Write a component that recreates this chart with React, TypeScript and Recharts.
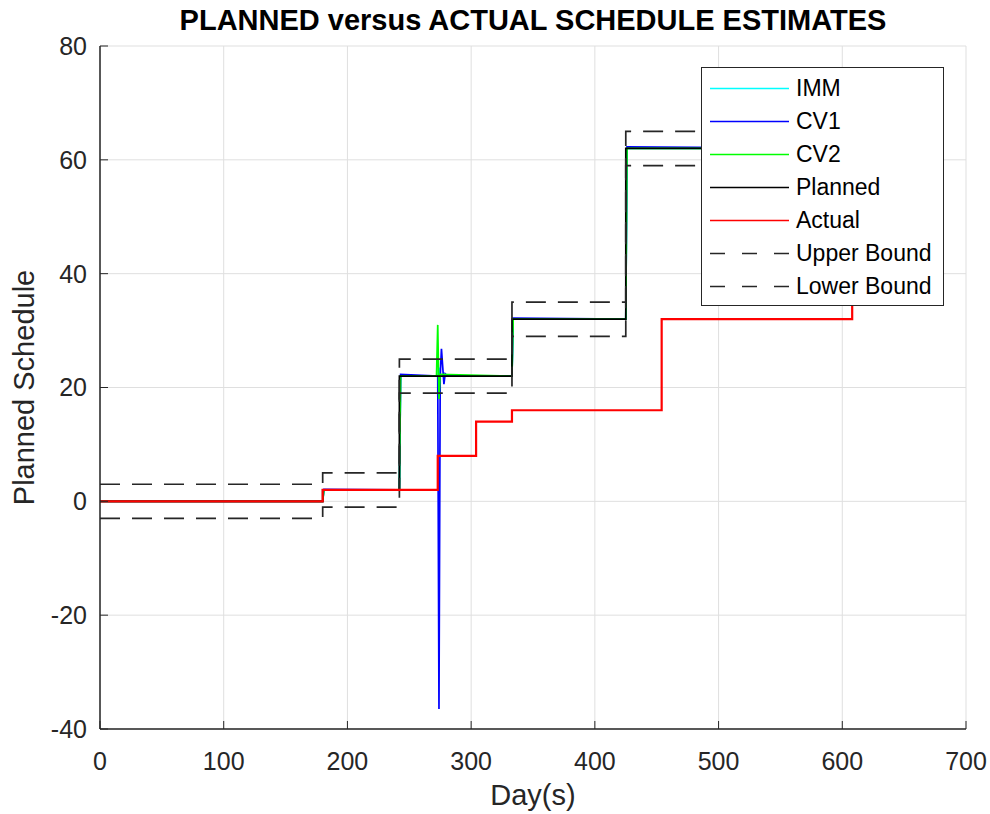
import { LineChart, Line, XAxis, YAxis, CartesianGrid, Legend, Label } from 'recharts';

const FONT = '"Liberation Sans", Arial, Helvetica, sans-serif';
const AXIS = '#262626';
const GRID = '#dfdfdf';
// negative tick size turns the tick marks inward, matlab style
const TICK_SIZE = -8;

const DAY_TICKS = [0, 100, 200, 300, 400, 500, 600, 700];
const SCHEDULE_TICKS = [-40, -20, 0, 20, 40, 60, 80];

// planned schedule steps and the +/-3 tolerance band around it
const PLANNED_DAYS = [0, 180, 242, 333, 425, 610];
const PLANNED_VALUES = [0, 2, 22, 32, 62, 62];
const UPPER_VALUES = [3, 5, 25, 35, 65, 65];
const LOWER_VALUES = [-3, -1, 19, 29, 59, 59];

// what actually happened
const ACTUAL_DAYS = [0, 180, 273, 304, 333, 454, 608];
const ACTUAL_VALUES = [0, 2, 8, 14, 16, 32, 62];

// filter estimates
const IMM_DAYS = [0, 180, 181, 242, 243, 273, 274, 275, 333, 334, 425, 426, 610];
const IMM_VALUES = [0, 0, 2, 2, 22, 22, 23.5, 22, 22, 32, 32, 62, 62];
const CV1_DAYS = [0, 180, 181, 242, 243, 273, 274, 275, 276, 278, 279, 281, 333, 334, 425, 426, 610];
const CV1_VALUES = [0, 0, 2.1, 2, 22.3, 22, -36.5, 22, 26.8, 20.6, 22.4, 22, 22, 32.2, 32, 62.3, 62];
const CV2_DAYS = [0, 180, 181, 242, 243, 272, 273, 274, 275, 333, 334, 425, 426, 610];
const CV2_VALUES = [0, 0, 2, 2, 22, 22, 31, 18, 22.3, 22, 32, 32, 62, 62];

const zip = (days: number[], values: number[]) => days.map((day, i) => ({ day, v: values[i] }));

const SERIES = [
  { name: 'IMM', color: '#00ffff', type: 'linear', data: zip(IMM_DAYS, IMM_VALUES) },
  { name: 'CV1', color: '#0000ff', type: 'linear', data: zip(CV1_DAYS, CV1_VALUES) },
  { name: 'CV2', color: '#00ff00', type: 'linear', data: zip(CV2_DAYS, CV2_VALUES) },
  { name: 'Planned', color: '#000000', type: 'stepAfter', data: zip(PLANNED_DAYS, PLANNED_VALUES) },
  { name: 'Actual', color: '#ff0000', type: 'stepAfter', width: 2.2, data: zip(ACTUAL_DAYS, ACTUAL_VALUES) },
  { name: 'Upper Bound', color: '#262626', type: 'stepAfter', dash: '20 12', data: zip(PLANNED_DAYS, UPPER_VALUES) },
  { name: 'Lower Bound', color: '#262626', type: 'stepAfter', dash: '20 12', data: zip(PLANNED_DAYS, LOWER_VALUES) },
];

// the actual curve goes on top of everything else
const DRAW_ORDER = [
  ...SERIES.filter((s) => s.name !== 'Actual'),
  ...SERIES.filter((s) => s.name === 'Actual'),
];

const tickStyle = { fill: AXIS, fontSize: 25, fontFamily: FONT };
const axisLine = { stroke: AXIS, strokeWidth: 1.5 };
const tickLine = { stroke: AXIS };

const LegendBox = () => (
  <div
    style={{
      border: `1px solid ${AXIS}`,
      background: '#fff',
      paddingTop: 4,
      width: 241,
      height: 233,
      fontFamily: FONT,
      fontSize: 23,
      color: '#000',
      boxSizing: 'content-box',
    }}
  >
    {SERIES.map((s) => (
      <div key={s.name} style={{ display: 'flex', alignItems: 'center', height: 33 }}>
        <svg width={94} height={33} style={{ flex: 'none' }}>
          <line
            x1={8}
            x2={87}
            y1={16.5}
            y2={16.5}
            stroke={s.color}
            strokeWidth={1.5}
            strokeDasharray={s.dash ? '15 17' : undefined}
          />
        </svg>
        <span style={{ whiteSpace: 'nowrap' }}>{s.name}</span>
      </div>
    ))}
  </div>
);

export default function App() {
  return (
    <div style={{ position: 'absolute', left: 0, top: 0, width: 990, height: 814, background: '#fff' }}>
      <div
        style={{
          position: 'absolute',
          left: 100,
          width: 866,
          top: 6,
          textAlign: 'center',
          fontFamily: FONT,
          fontWeight: 'bold',
          fontSize: 29,
          lineHeight: '29px',
          color: '#000',
          whiteSpace: 'nowrap',
        }}
      >
        PLANNED versus ACTUAL SCHEDULE ESTIMATES
      </div>
      <LineChart width={990} height={814} margin={{ top: 46, right: 24, bottom: 45, left: 30 }}>
        <CartesianGrid stroke={GRID} strokeWidth={1} />
        <XAxis
          dataKey="day"
          type="number"
          domain={[0, 700]}
          ticks={DAY_TICKS}
          allowDataOverflow
          height={40}
          tickSize={TICK_SIZE}
          tickMargin={31}
          tick={tickStyle}
          tickLine={tickLine}
          axisLine={axisLine}
        >
          <Label
            content={({ viewBox }: any) => (
              <text
                x={viewBox.x + viewBox.width / 2}
                y={viewBox.y + 76}
                textAnchor="middle"
                fill={AXIS}
                fontSize={29}
                fontFamily={FONT}
              >
                Day(s)
              </text>
            )}
          />
        </XAxis>
        <XAxis
          xAxisId="top"
          orientation="top"
          type="number"
          domain={[0, 700]}
          ticks={DAY_TICKS}
          allowDataOverflow
          height={0}
          tickSize={TICK_SIZE}
          tick={false}
          tickLine={tickLine}
          axisLine={axisLine}
        />
        <YAxis
          type="number"
          domain={[-40, 80]}
          ticks={SCHEDULE_TICKS}
          allowDataOverflow
          width={70}
          tickSize={TICK_SIZE}
          tickMargin={21}
          tick={tickStyle}
          tickLine={tickLine}
          axisLine={axisLine}
        >
          <Label
            content={({ viewBox }: any) => {
              const cx = viewBox.x + 4;
              const cy = viewBox.y + viewBox.height / 2;
              return (
                <text
                  x={cx}
                  y={cy}
                  transform={`rotate(-90, ${cx}, ${cy})`}
                  textAnchor="middle"
                  fill={AXIS}
                  fontSize={29}
                  fontFamily={FONT}
                >
                  Planned Schedule
                </text>
              );
            }}
          />
        </YAxis>
        <YAxis
          yAxisId="right"
          orientation="right"
          type="number"
          domain={[-40, 80]}
          ticks={SCHEDULE_TICKS}
          allowDataOverflow
          width={0}
          tickSize={TICK_SIZE}
          tick={false}
          tickLine={tickLine}
          axisLine={axisLine}
        />
        {DRAW_ORDER.map((s) => (
          <Line
            key={s.name}
            name={s.name}
            data={s.data}
            dataKey="v"
            type={s.type as any}
            stroke={s.color}
            strokeWidth={s.width ?? 1.7}
            strokeDasharray={s.dash}
            dot={false}
            activeDot={false}
            isAnimationActive={false}
          />
        ))}
        <Legend
          layout="vertical"
          align="center"
          verticalAlign="middle"
          content={<LegendBox />}
          wrapperStyle={{ left: 701, top: 67, width: 'auto', height: 'auto' }}
        />
      </LineChart>
    </div>
  );
}
